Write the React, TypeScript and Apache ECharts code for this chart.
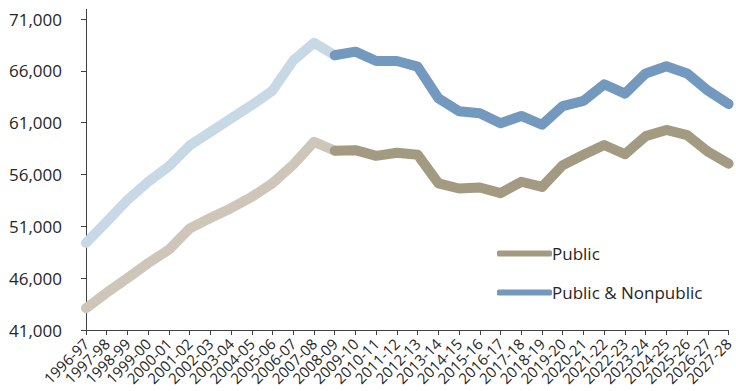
import React, { useEffect, useRef } from "react";
import * as echarts from "echarts";

// School years on the category axis
const years = [
  "1996-97", "1997-98", "1998-99", "1999-00", "2000-01", "2001-02", "2002-03", "2003-04",
  "2004-05", "2005-06", "2006-07", "2007-08", "2008-09", "2009-10", "2010-11", "2011-12",
  "2012-13", "2013-14", "2014-15", "2015-16", "2016-17", "2017-18", "2018-19", "2019-20",
  "2020-21", "2021-22", "2022-23", "2023-24", "2024-25", "2025-26", "2026-27", "2027-28",
];

// Actual counts, 1996-97 through 2008-09
const publicActual = [
  43100, 44600, 46000, 47450, 48750, 50800, 51800, 52750, 53850, 55150, 56950, 59150, 58300,
];
const totalActual = [
  49400, 51450, 53550, 55300, 56800, 58800, 60100, 61400, 62700, 64100, 67000, 68700, 67500,
];

// Projected counts, 2008-09 through 2027-28
const publicProjected = [
  58300, 58350, 57800, 58100, 57900, 55150, 54650, 54750, 54200, 55300, 54800, 56900, 57900,
  58850, 57950, 59700, 60300, 59800, 58200, 57050,
];
const totalProjected = [
  67500, 67850, 66950, 66950, 66400, 63350, 62100, 61900, 60950, 61650, 60800, 62600, 63100,
  64700, 63800, 65750, 66450, 65750, 64100, 62800,
];

const yMin = 41000;
const yMax = 71000;
const yStep = 5000;

const FONT = "'Open Sans', 'Noto Sans', sans-serif";
const TEXT = "#262626";
const AXIS = "#404040";

const padActual = (vals: number[]) =>
  years.map((_, i) => (i < vals.length ? vals[i] : null));
const padProjected = (vals: number[]) => {
  const start = years.length - vals.length;
  return years.map((_, i) => (i >= start ? vals[i - start] : null));
};

const lineSeries = (name: string, data: (number | null)[], color: string, z: number) => ({
  name,
  type: "line",
  data,
  z,
  showSymbol: false,
  symbol: "none",
  connectNulls: false,
  lineStyle: { width: 10, color, cap: "round", join: "round" },
  itemStyle: { color },
});

export default function App() {
  const ref = useRef<HTMLDivElement>(null);

  useEffect(() => {
    if (!ref.current) return;
    const chart = echarts.init(ref.current, undefined, { renderer: "svg" });
    chart.setOption({
      animation: false,
      grid: { left: 86, right: 1, top: 19, bottom: 61, containLabel: false },
      legend: {
        data: ["Public", "Public & Nonpublic"],
        orient: "vertical",
        left: 492,
        top: 240,
        itemWidth: 55,
        itemHeight: 6,
        itemGap: 22,
        icon: "roundRect",
        textStyle: { fontFamily: FONT, fontSize: 17, color: TEXT, padding: [0, 0, 0, -5] },
      },
      xAxis: {
        type: "category",
        data: years,
        boundaryGap: false,
        axisLine: { show: true, lineStyle: { color: AXIS, width: 1 } },
        axisTick: { show: true, length: 5, interval: 0, lineStyle: { color: AXIS } },
        axisLabel: {
          interval: 0,
          rotate: 45,
          margin: 11,
          fontFamily: FONT,
          fontSize: 15,
          color: TEXT,
        },
        splitLine: { show: false },
      },
      yAxis: {
        type: "value",
        min: yMin,
        max: yMax,
        interval: yStep,
        axisLine: { show: true, lineStyle: { color: AXIS, width: 1 } },
        axisTick: { show: true, length: 5, lineStyle: { color: AXIS } },
        axisLabel: {
          margin: 24,
          fontFamily: FONT,
          fontSize: 17,
          color: TEXT,
          formatter: (v: number) => v.toLocaleString("en-US"),
        },
        splitLine: { show: false },
      },
      graphic: [
        {
          type: "line",
          shape: { x1: 86.5, y1: 9, x2: 86.5, y2: 19 },
          style: { stroke: AXIS, lineWidth: 1 },
        },
      ],
      series: [
        lineSeries("Public actual", padActual(publicActual), "#cdc6b9", 2),
        lineSeries("Total actual", padActual(totalActual), "#c8d9e6", 2),
        lineSeries("Public", padProjected(publicProjected), "#a39a82", 3),
        lineSeries("Public & Nonpublic", padProjected(totalProjected), "#7399bf", 3),
      ],
    });
    return () => chart.dispose();
  }, []);

  return (
    <div
      ref={ref}
      style={{ position: "absolute", left: 0, top: 0, width: 736, height: 391 }}
    />
  );
}
